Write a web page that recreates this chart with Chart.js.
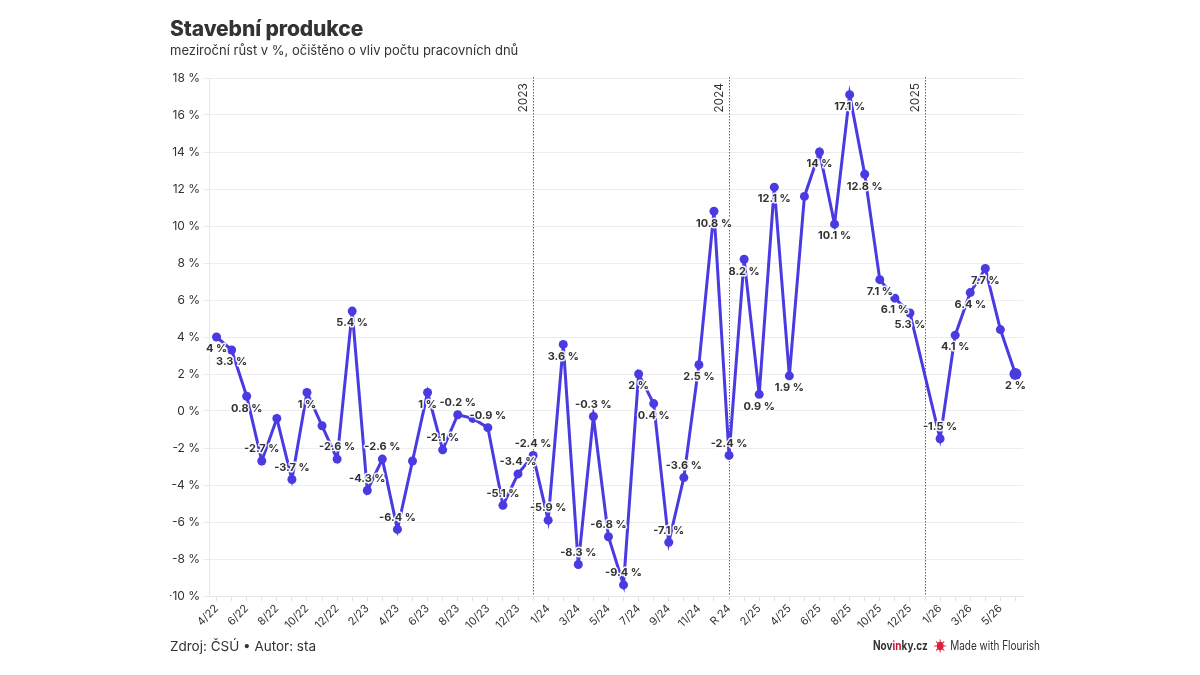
<!DOCTYPE html>
<html>
<head>
<meta charset="utf-8">
<script src="https://cdn.jsdelivr.net/npm/chart.js@4"></script>
<style>
  html, body { margin: 0; padding: 0; background: #fff; }
  #wrap { position: relative; width: 1200px; height: 675px; font-family: Inter, "Noto Sans", sans-serif; color: #333; }
  #chart { position: absolute; left: 0; top: 0; }
  .title { position: absolute; left: 170px; top: 16px; font-size: 21px; font-weight: 800; color: #333; letter-spacing: -0.1px; }
  .subtitle { position: absolute; left: 170px; top: 42px; font-size: 13px; color: #333; }
  .source { position: absolute; left: 170px; top: 638px; font-size: 13.5px; color: #333; }
  .brand { position: absolute; left: 873px; top: 638px; font-size: 12.5px; color: #333; display: flex; align-items: center; transform: scaleX(0.8); transform-origin: left center; white-space: nowrap; }
  .brand .nov { font-weight: 700; margin-right: 8px; }
  .brand .nov span { color: #c8102e; }
  .brand svg { margin-right: 4px; }
</style>
</head>
<body>
<div id="wrap">
  <canvas id="chart" width="1200" height="675"></canvas>
  <div class="title">Stavební produkce</div>
  <div class="subtitle">meziroční růst v %, očištěno o vliv počtu pracovních dnů</div>
  <div class="source">Zdroj: ČSÚ • Autor: sta</div>
  <div class="brand">
    <span class="nov">Nov<span>in</span>ky.cz</span>
    <svg width="16" height="14" viewBox="-8 -7 16 14">
      <circle r="4.2" fill="#e0213b"/>
      <g stroke="#e0213b" stroke-width="1.2">
        <line x1="0" y1="-6.5" x2="0" y2="6.5"/>
        <line x1="-7.5" y1="0" x2="7.5" y2="0"/>
        <line x1="-5" y1="-4.6" x2="5" y2="4.6"/>
        <line x1="-5" y1="4.6" x2="5" y2="-4.6"/>
      </g>
    </svg>
    <span>Made with Flourish</span>
  </div>
</div>
<script>
var months = ["4/22", "5/22", "6/22", "7/22", "8/22", "9/22", "10/22", "11/22", "12/22",
  "1/23", "2/23", "3/23", "4/23", "5/23", "6/23", "7/23", "8/23", "9/23", "10/23", "11/23", "12/23", "R 23",
  "1/24", "2/24", "3/24", "4/24", "5/24", "6/24", "7/24", "8/24", "9/24", "10/24", "11/24", "12/24", "R 24",
  "1/25", "2/25", "3/25", "4/25", "5/25", "6/25", "7/25", "8/25", "9/25", "10/25", "11/25", "12/25", "R 25",
  "1/26", "2/26", "3/26", "4/26", "5/26", "6/26"];
var growth = [4, 3.3, 0.8, -2.7, -0.4, -3.7, 1, -0.8, -2.6,
  5.4, -4.3, -2.6, -6.4, -2.7, 1, -2.1, -0.2, -0.4, -0.9, -5.1, -3.4, -2.4,
  -5.9, 3.6, -8.3, -0.3, -6.8, -9.4, 2, 0.4, -7.1, -3.6, 2.5, 10.8, -2.4,
  8.2, 0.9, 12.1, 1.9, 11.6, 14, 10.1, 17.1, 12.8, 7.1, 6.1, 5.3, null,
  -1.5, 4.1, 6.4, 7.7, 4.4, 2];
// points whose value label flourish hid because of overlap
var hiddenLabels = [4, 7, 13, 17, 39, 52];
var yearMarks = [{ at: "R 23", text: "2023" }, { at: "R 24", text: "2024" }, { at: "R 25", text: "2025" }];
var yTicks = [-10, -8, -6, -4, -2, 0, 2, 4, 6, 8, 10, 12, 14, 16, 18];

var lineColor = "#4a3ae2";
var fontFam = "Inter, 'Noto Sans', sans-serif";

function pct(v) { return String(v) + " %"; }

var yearLines = {
  id: "yearLines",
  beforeDatasetsDraw: function (chart) {
    var ctx = chart.ctx, area = chart.chartArea, x = chart.scales.x;
    ctx.save();
    yearMarks.forEach(function (m) {
      var px = Math.round(x.getPixelForValue(months.indexOf(m.at))) + 0.5;
      ctx.strokeStyle = "#666";
      ctx.lineWidth = 1;
      ctx.setLineDash([1.5, 1.5]);
      ctx.beginPath();
      ctx.moveTo(px, area.top - 1);
      ctx.lineTo(px, area.bottom);
      ctx.stroke();
      ctx.setLineDash([]);
      ctx.save();
      ctx.translate(px - 4, area.top + 5);
      ctx.rotate(-Math.PI / 2);
      ctx.fillStyle = "#333";
      ctx.font = "12px " + fontFam;
      ctx.textAlign = "right";
      ctx.textBaseline = "bottom";
      ctx.fillText(m.text, 0, 0);
      ctx.restore();
    });
    ctx.restore();
  }
};

var valueLabels = {
  id: "valueLabels",
  afterDatasetsDraw: function (chart) {
    var ctx = chart.ctx, meta = chart.getDatasetMeta(0);
    ctx.save();
    ctx.font = "bold 11px " + fontFam;
    ctx.textAlign = "center";
    ctx.textBaseline = "middle";
    ctx.lineJoin = "round";
    meta.data.forEach(function (pt, i) {
      var v = growth[i];
      if (v === null || hiddenLabels.indexOf(i) >= 0) return;
      var y = v < 0 ? pt.y - 12 : pt.y + 12;
      var t = pct(v);
      ctx.strokeStyle = "rgba(255,255,255,0.9)";
      ctx.lineWidth = 3;
      ctx.strokeText(t, pt.x, y);
      ctx.fillStyle = "#333";
      ctx.fillText(t, pt.x, y);
    });
    ctx.restore();
  }
};

new Chart("chart", {
  type: "line",
  data: {
    labels: months,
    datasets: [{
      data: growth,
      borderColor: lineColor,
      backgroundColor: lineColor,
      borderWidth: 3,
      pointRadius: function (c) { return c.dataIndex === growth.length - 1 ? 6 : 4.5; },
      pointBorderWidth: 0,
      tension: 0,
      spanGaps: true
    }]
  },
  options: {
    responsive: false,
    animation: false,
    events: [],
    layout: { padding: { left: 170, right: 177, top: 78, bottom: 40 } },
    plugins: { legend: { display: false }, tooltip: { enabled: false } },
    scales: {
      x: {
        offset: true,
        afterFit: function (s) { s.height = 39; },
        grid: { drawOnChartArea: false, drawTicks: true, tickLength: 5, color: "#e2e2e2", offset: false },
        border: { color: "#e6e6e6" },
        ticks: {
          autoSkip: false,
          maxRotation: 45,
          minRotation: 45,
          padding: 1,
          color: "#333",
          font: { family: fontFam, size: 11 },
          callback: function (v, i) { return i % 2 === 0 ? months[i] : ""; }
        }
      },
      y: {
        min: -10,
        max: 18,
        afterFit: function (s) { s.width = 39; },
        afterBuildTicks: function (s) { s.ticks = yTicks.map(function (v) { return { value: v }; }); },
        grid: { color: "#ececec", tickLength: 6 },
        border: { color: "#e6e6e6" },
        ticks: {
          padding: 3,
          color: "#333",
          font: { family: fontFam, size: 12 },
          callback: function (v) { return pct(v); }
        }
      }
    }
  },
  plugins: [yearLines, valueLabels]
});
</script>
</body>
</html>
